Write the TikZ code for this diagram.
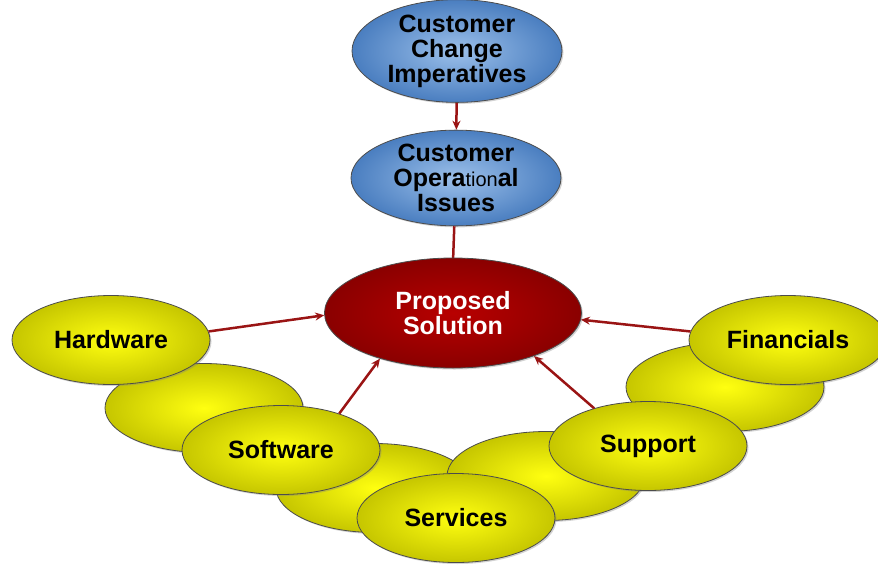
\documentclass[tikz,border=0pt]{standalone}
\usepackage{fontspec}
\setmainfont{Liberation Sans}
\usepackage{tikz}
\usetikzlibrary{arrows.meta,shapes.geometric,shadows}
\definecolor{skyin}{HTML}{9CC0EA}
\definecolor{skyout}{HTML}{4A7EC0}
\definecolor{rubyin}{HTML}{B80000}
\definecolor{rubyout}{HTML}{8A0000}
\definecolor{lemonin}{HTML}{FFFF10}
\definecolor{lemonout}{HTML}{C6C600}
\definecolor{linkred}{HTML}{9A1414}
\tikzset{
  blob/.style={ellipse,draw=black!70,line width=0.8pt,inner sep=0pt,
    font=\fontsize{25}{25}\selectfont\bfseries,align=center,
    drop shadow={shadow xshift=1.5pt,shadow yshift=-1.5pt,opacity=.35}},
  drivernode/.style={blob,shading=radial,inner color=skyin,outer color=skyout,
    minimum width=210pt,minimum height=94pt},
  solnode/.style={blob,shading=radial,inner color=rubyin,outer color=rubyout,
    text=white,minimum width=257pt,minimum height=110pt},
  partnode/.style={blob,shading=radial,inner color=lemonin,outer color=lemonout,
    minimum width=198pt,minimum height=89pt},
  feed/.style={-{Stealth[length=9pt,width=8pt]},line width=2.5pt,linkred},
  plainlink/.style={line width=2.5pt,linkred},
}

\begin{document}
\begin{tikzpicture}[x=1pt,y=-1pt]
  \useasboundingbox (0,0) rectangle (878,565);
  % empty ellipses stacked behind the labelled ones
  \node[partnode] (pA) at (204,408) {};
  \node[partnode] (pB) at (375,488) {};
  \node[partnode] (pC) at (546,476) {};
  \node[partnode] (pD) at (725,387) {};
  \node[partnode] (nHw) at (111,340) {Hardware};
  \node[partnode] (nSw) at (281,450) {Software};
  \node[partnode] (nSv) at (456,518) {Services};
  \node[partnode] (nSp) at (648,446) {Support};
  \node[partnode] (nFi) at (788,340) {Financials};
  \node[drivernode] (nCci) at (457,51) {Customer\\Change\\Imperatives};
  \node[drivernode] (nCoi) at (456,178)
    {Customer\\Opera{\mdseries\fontsize{20}{20}\selectfont tion}al\\Issues};
  \draw[feed] (nCci) -- (nCoi);
  \draw[plainlink] (nCoi) -- (453,262);
  \node[solnode] (nPs) at (453,313) {Proposed\\Solution};
  \draw[feed] (nHw.5) -- (nPs.181);
  \draw[feed] (nSw.32) -- (nPs.212);
  \draw[feed] (nSp.145) -- (nPs.332);
  \draw[feed] (nFi.175) -- (nPs.357);
\end{tikzpicture}
\end{document}
